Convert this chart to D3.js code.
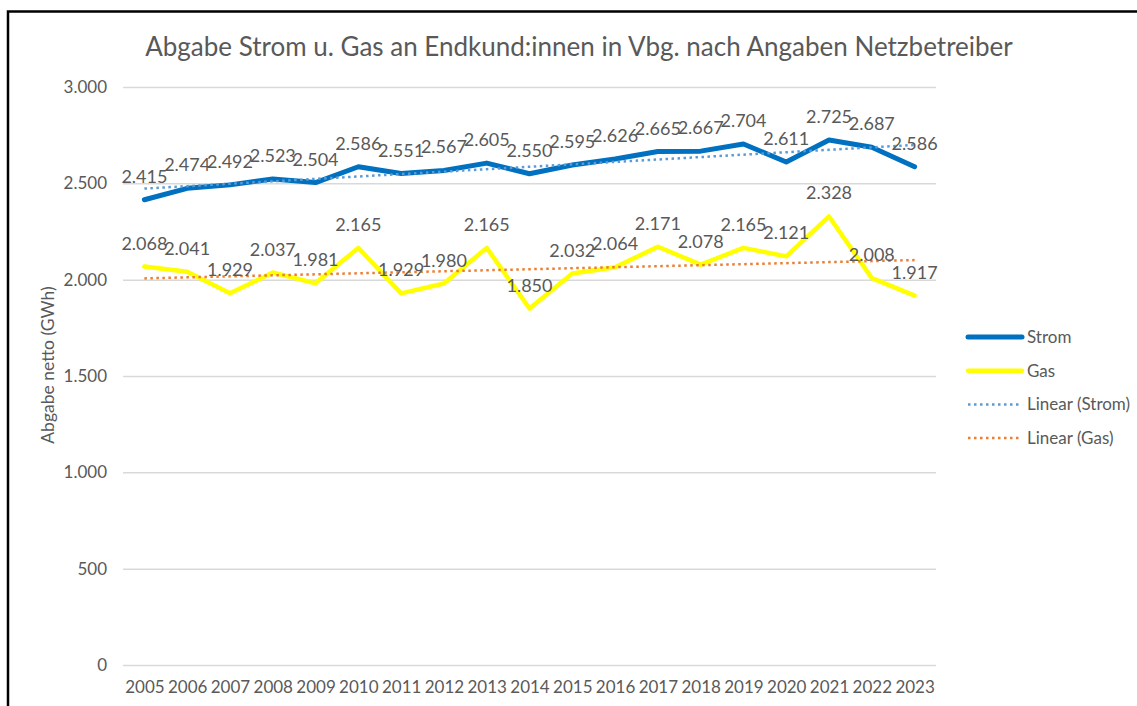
<!DOCTYPE html>
<meta charset="utf-8">
<script src="https://d3js.org/d3.v7.min.js"></script>
<style>
    body { margin: 0; background: white; }
    text { font-family: Lato, "Open Sans", sans-serif; fill: #595959; }
</style>
<body>
<div id="chart"></div>
<script>
    // data
    var years = ["2005", "2006", "2007", "2008", "2009", "2010", "2011", "2012", "2013", "2014",
        "2015", "2016", "2017", "2018", "2019", "2020", "2021", "2022", "2023"];
    var strom = [2415, 2474, 2492, 2523, 2504, 2586, 2551, 2567, 2605, 2550,
        2595, 2626, 2665, 2667, 2704, 2611, 2725, 2687, 2586];
    var gas = [2068, 2041, 1929, 2037, 1981, 2165, 1929, 1980, 2165, 1850,
        2032, 2064, 2171, 2078, 2165, 2121, 2328, 2008, 1917];
    var yTicks = [0, 500, 1000, 1500, 2000, 2500, 3000];

    var width = 1137, height = 706;

    var svg = d3.select("#chart").append("svg")
        .attr("width", width)
        .attr("height", height);

    // frame around the chart (runs off the right and bottom edge)
    svg.append("rect")
        .attr("x", 8).attr("y", 11.5)
        .attr("width", 1300).attr("height", 900)
        .attr("fill", "white")
        .attr("stroke", "black")
        .attr("stroke-width", 2.5);

    var de = d3.formatLocale({ decimal: ",", thousands: ".", grouping: [3], currency: ["", " €"] });
    var fmt = de.format(",d");

    var x = d3.scalePoint().domain(years).range([123, 936]).padding(0.5);
    var y = d3.scaleLinear().domain([0, 3000]).range([665, 87]);

    // title
    svg.append("text")
        .attr("x", 579).attr("y", 56)
        .attr("text-anchor", "middle")
        .style("font-size", "26px")
        .text("Abgabe Strom u. Gas an Endkund:innen in Vbg. nach Angaben Netzbetreiber");

    // gridlines + y labels
    var yAxis = svg.append("g")
        .attr("transform", "translate(123,0)")
        .call(d3.axisLeft(y).tickValues(yTicks).tickFormat(fmt).tickSize(-813).tickPadding(16));
    yAxis.select(".domain").remove();
    yAxis.selectAll("line").attr("stroke", "#d9d9d9").attr("stroke-width", 1.5);
    yAxis.selectAll("text").style("font-size", "17px").attr("fill", "#595959");

    // x labels
    var xAxis = svg.append("g")
        .attr("transform", "translate(0,665)")
        .call(d3.axisBottom(x).tickSize(0).tickPadding(16));
    xAxis.select(".domain").remove();
    xAxis.selectAll("text").style("font-size", "17px").attr("fill", "#595959");

    // y axis title
    svg.append("text")
        .attr("transform", "translate(54,365) rotate(-90)")
        .attr("text-anchor", "middle")
        .style("font-size", "17.5px")
        .text("Abgabe netto (GWh)");

    // linear trend like excel's trendline
    function trend(vals) {
        var n = vals.length;
        var xs = d3.range(n);
        var mx = d3.mean(xs), my = d3.mean(vals);
        var b = d3.sum(xs, function (i) { return (i - mx) * (vals[i] - my); }) /
            d3.sum(xs, function (i) { return (i - mx) * (i - mx); });
        var a = my - b * mx;
        return xs.map(function (i) { return a + b * i; });
    }

    var line = d3.line()
        .x(function (d, i) { return x(years[i]); })
        .y(function (d) { return y(d); });

    var series = [
        { name: "Strom", values: strom, color: "#0070C0", w: 5 },
        { name: "Gas", values: gas, color: "#FFFF00", w: 4.5 }
    ];
    var trends = [
        { name: "Linear (Strom)", values: trend(strom), color: "#5B9BD5" },
        { name: "Linear (Gas)", values: trend(gas), color: "#ED7D31" }
    ];

    series.forEach(function (s) {
        svg.append("path")
            .datum(s.values)
            .attr("d", line)
            .attr("fill", "none")
            .attr("stroke", s.color)
            .attr("stroke-width", s.w)
            .attr("stroke-linejoin", "round")
            .attr("stroke-linecap", "round");
    });

    trends.forEach(function (t) {
        svg.append("path")
            .datum(t.values)
            .attr("d", line)
            .attr("fill", "none")
            .attr("stroke", t.color)
            .attr("stroke-width", 2.5)
            .attr("stroke-dasharray", "2.5,3.5");
    });

    // data labels above the points
    series.forEach(function (s) {
        svg.append("g").selectAll("text")
            .data(s.values)
            .enter().append("text")
            .attr("x", function (d, i) { return x(years[i]); })
            .attr("y", function (d) { return y(d) - 17; })
            .attr("text-anchor", "middle")
            .style("font-size", "18px")
            .text(function (d) { return fmt(d); });
    });

    // legend
    var legendItems = [
        { name: "Strom", color: "#0070C0", w: 5, dash: null },
        { name: "Gas", color: "#FFFF00", w: 4.5, dash: null },
        { name: "Linear (Strom)", color: "#5B9BD5", w: 2.5, dash: "2.5,3.5" },
        { name: "Linear (Gas)", color: "#ED7D31", w: 2.5, dash: "2.5,3.5" }
    ];
    var legend = svg.append("g").selectAll("g")
        .data(legendItems)
        .enter().append("g")
        .attr("transform", function (d, i) { return "translate(968," + (337 + i * 33.7) + ")"; });
    legend.append("line")
        .attr("x1", 0).attr("x2", 54)
        .attr("stroke", function (d) { return d.color; })
        .attr("stroke-width", function (d) { return d.w; })
        .attr("stroke-linecap", function (d) { return d.dash ? "butt" : "round"; })
        .attr("stroke-dasharray", function (d) { return d.dash; });
    legend.append("text")
        .attr("x", 59).attr("dy", "0.35em")
        .style("font-size", "17px")
        .text(function (d) { return d.name; });
</script>
</body>
